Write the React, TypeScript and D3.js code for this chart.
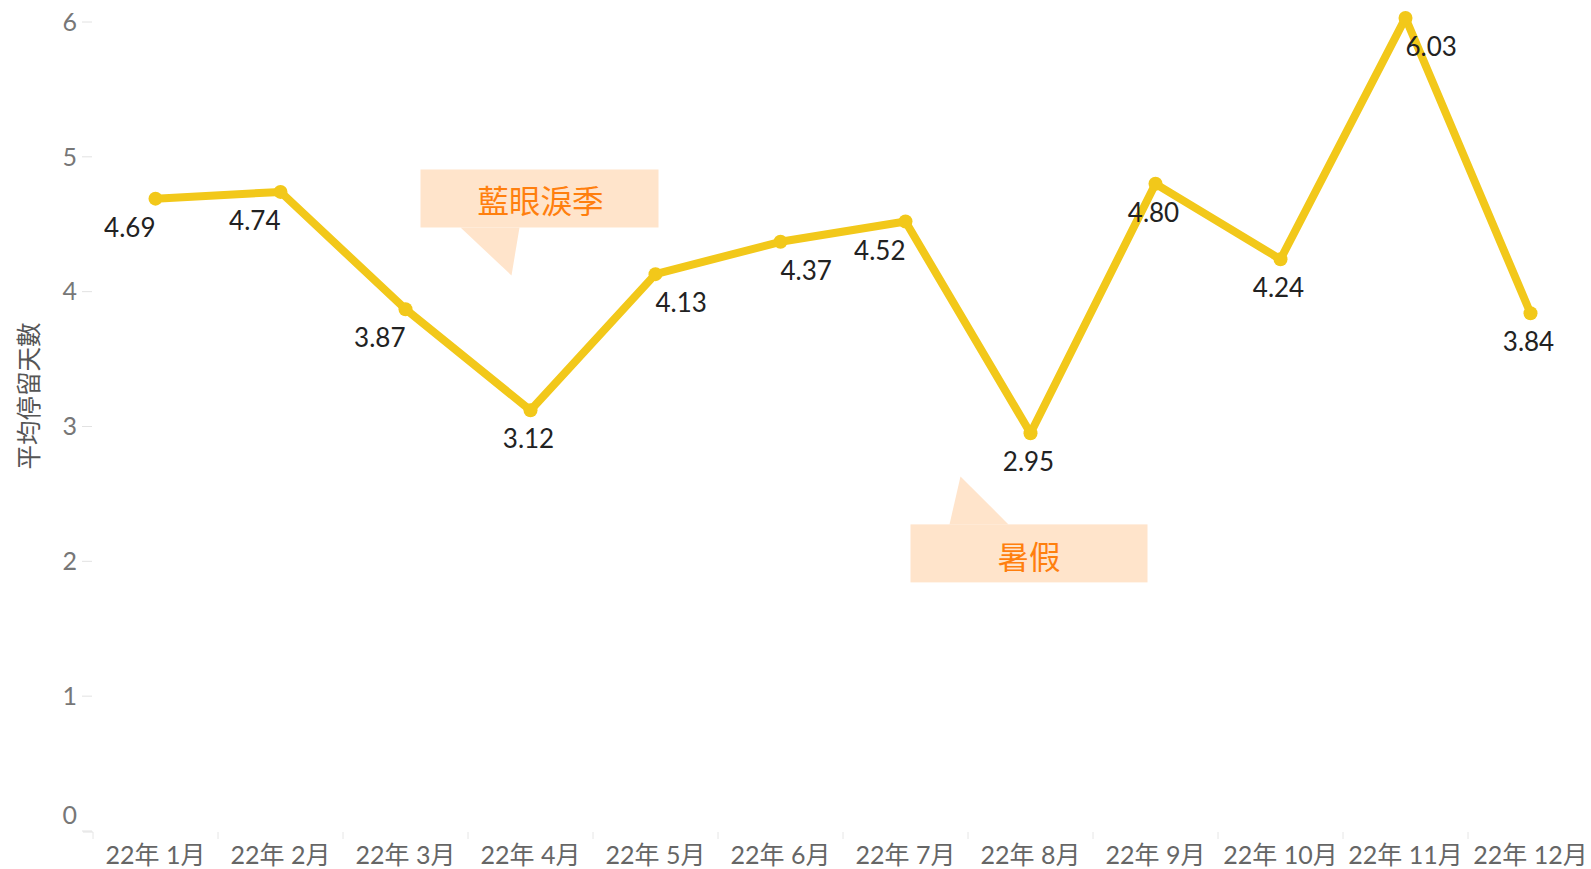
import { useEffect, useRef } from "react"
import * as d3 from "d3"

const months = [
  "22年 1月", "22年 2月", "22年 3月", "22年 4月", "22年 5月", "22年 6月",
  "22年 7月", "22年 8月", "22年 9月", "22年 10月", "22年 11月", "22年 12月",
]
const avgStay = [4.69, 4.74, 3.87, 3.12, 4.13, 4.37, 4.52, 2.95, 4.8, 4.24, 6.03, 3.84]
// where each value label sits relative to its point
const labelAnchors = ["end", "end", "end", "middle", "start", "start", "end", "middle", "middle", "middle", "start", "middle"]
const yTicks = [0, 1, 2, 3, 4, 5, 6]
const yTitle = "平均停留天數"

const notes = [
  { text: "藍眼淚季", month: "22年 4月", value: 4.12 },
  { text: "暑假", month: "22年 8月", value: 2.63 },
]

const W = 1591
const H = 869
const font = "Lato, 'Noto Sans CJK TC', sans-serif"

export default function App() {
  const svgRef = useRef<SVGSVGElement>(null)

  useEffect(() => {
    if (!svgRef.current) return
    const svg = d3.select(svgRef.current)
    svg.selectAll("*").remove()

    const x = d3.scaleBand<string>().domain(months).range([93, 1593])
    const cx = (m: string) => (x(m) ?? 0) + x.bandwidth() / 2
    const y = d3.scaleLinear().domain([0, 6]).range([831, 22])

    // y axis ticks
    const yAxis = svg.append("g")
    yAxis.selectAll("line.tick")
      .data(yTicks)
      .enter()
      .append("line")
      .attr("x1", 82).attr("x2", 92)
      .attr("y1", (d) => y(d)).attr("y2", (d) => y(d))
      .attr("stroke", "#e2e2e2")
      .attr("stroke-width", 1)
    yAxis.selectAll("text")
      .data(yTicks)
      .enter()
      .append("text")
      .attr("x", 77)
      .attr("y", (d) => (d === 0 ? y(d) - 16 : y(d)))
      .attr("dy", "0.35em")
      .attr("text-anchor", "end")
      .attr("font-family", font)
      .attr("font-size", 25)
      .attr("fill", "#777")
      .text((d) => d)

    svg.append("text")
      .attr("transform", `translate(38, 396) rotate(-90)`)
      .attr("text-anchor", "middle")
      .attr("font-family", font)
      .attr("font-size", 24.5)
      .attr("fill", "#555")
      .text(yTitle)

    // x axis
    const xAxis = svg.append("g")
    xAxis.append("line")
      .attr("x1", 83).attr("x2", 93).attr("y1", 832).attr("y2", 832)
      .attr("stroke", "#e2e2e2")
    xAxis.selectAll("line.sep")
      .data(months)
      .enter()
      .append("line")
      .attr("x1", (d) => x(d) ?? 0).attr("x2", (d) => x(d) ?? 0)
      .attr("y1", 832).attr("y2", 839)
      .attr("stroke", "#e6e6e6")
    xAxis.selectAll("text")
      .data(months)
      .enter()
      .append("text")
      .attr("x", (d) => cx(d))
      .attr("y", 855)
      .attr("dy", "0.35em")
      .attr("text-anchor", "middle")
      .attr("font-family", font)
      .attr("font-size", 25)
      .attr("fill", "#666")
      .text((d) => d)

    // annotations
    notes.forEach((n) => {
      const tx = cx(n.month)
      const ty = y(n.value)
      const g = svg.append("g")
      if (n.text === "藍眼淚季") {
        const tipX = tx - 19
        const bx = tipX - 91, by = ty - 106, bw = 238, bh = 58
        g.append("rect").attr("x", bx).attr("y", by).attr("width", bw).attr("height", bh).attr("fill", "#ffe4cb")
        g.append("path")
          .attr("d", `M${tipX - 51},${by + bh} L${tipX + 8},${by + bh} L${tipX},${ty} Z`)
          .attr("fill", "#ffe4cb")
        g.append("text")
          .attr("x", bx + bw / 2 + 1).attr("y", by + bh / 2 + 3)
          .attr("dy", "0.36em").attr("text-anchor", "middle")
          .attr("font-family", font).attr("font-size", 31.5).attr("fill", "#ff7f0e")
          .text(n.text)
      } else {
        const tipX = tx - 70
        const bx = tipX - 50, by = ty + 48, bw = 237, bh = 58
        g.append("rect").attr("x", bx).attr("y", by).attr("width", bw).attr("height", bh).attr("fill", "#ffe4cb")
        g.append("path")
          .attr("d", `M${tipX - 11},${by} L${tipX + 48},${by} L${tipX},${ty} Z`)
          .attr("fill", "#ffe4cb")
        g.append("text")
          .attr("x", bx + bw / 2).attr("y", by + bh / 2 + 4)
          .attr("dy", "0.36em").attr("text-anchor", "middle")
          .attr("font-family", font).attr("font-size", 31.5).attr("fill", "#ff7f0e")
          .text(n.text)
      }
    })

    // line
    const line = d3.line<number>()
      .x((_, i) => cx(months[i]))
      .y((d) => y(d))
    svg.append("path")
      .datum(avgStay)
      .attr("d", line)
      .attr("fill", "none")
      .attr("stroke", "#f2c81a")
      .attr("stroke-width", 8)
      .attr("stroke-linejoin", "round")

    svg.selectAll("circle.pt")
      .data(avgStay)
      .enter()
      .append("circle")
      .attr("cx", (_, i) => cx(months[i]))
      .attr("cy", (d) => y(d))
      .attr("r", 7)
      .attr("fill", "#f2c81a")

    // value labels
    svg.selectAll("text.val")
      .data(avgStay)
      .enter()
      .append("text")
      .attr("x", (_, i) => cx(months[i]) + (labelAnchors[i] === "middle" ? -2 : 0))
      .attr("y", (d) => y(d) + 29)
      .attr("dy", "0.35em")
      .attr("text-anchor", (_, i) => labelAnchors[i])
      .attr("font-family", font)
      .attr("font-size", 26)
      .attr("fill", "#222")
      .text((d) => d.toFixed(2))
  }, [])

  return (
    <svg
      ref={svgRef}
      width={W}
      height={H}
      style={{ position: "absolute", left: 0, top: 0, background: "#fff" }}
    />
  )
}
